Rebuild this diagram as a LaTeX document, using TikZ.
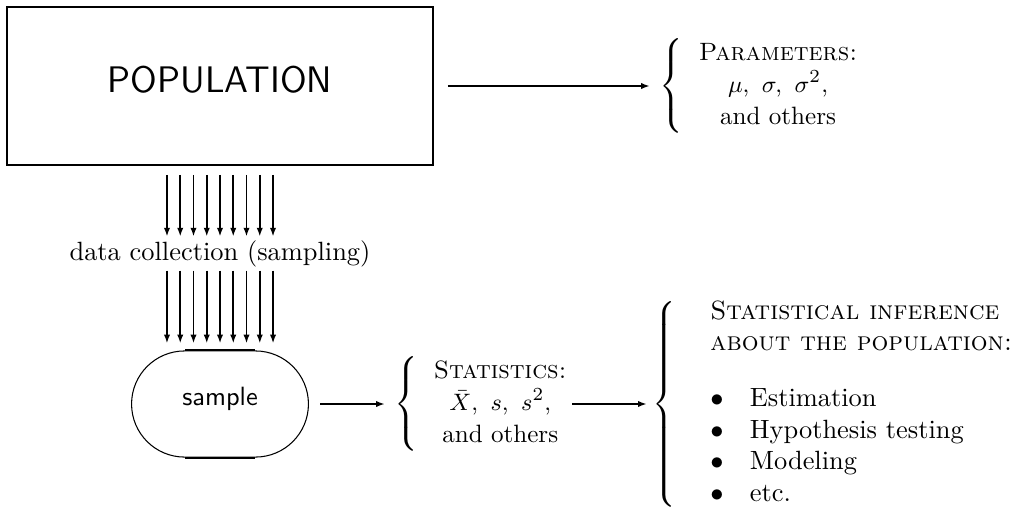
\documentclass[tikz,border=0pt]{standalone}
\usepackage{amsmath,amssymb}
\usepackage{array}
\usepackage{tikz}
\usetikzlibrary{arrows.meta,shapes.misc,calc}

\newcommand{\bracefont}{\fontsize{9.5}{12}\selectfont}

\begin{document}
\begin{tikzpicture}[x=0.3788pt, y=-0.3788pt, >={Latex[length=3.4pt,width=2.4pt]},
    flow/.style={->, line width=0.7pt},
    bracebox/.style={inner sep=0pt, anchor=west}]
    \useasboundingbox (0,0) rectangle (1023,509);

    \node[draw, line width=0.65pt, inner sep=0pt, minimum width=161.4pt, minimum height=59.9pt,
          text depth=4.9pt, font=\sffamily\fontsize{14}{16}\selectfont] (pop) at (220,86) {POPULATION};
    \node[draw, rounded rectangle, line width=0.4pt, inner sep=0pt, minimum width=67pt,
          minimum height=40.2pt, text depth=6pt, font=\sffamily] (sample) at (220,404) {sample};
    \draw[line width=0.8pt] ($(sample.north)+(-35,0)$) -- ($(sample.north)+(35,0)$);
    \draw[line width=0.8pt] ($(sample.south)+(-35,0)$) -- ($(sample.south)+(35,0)$);

    \node[anchor=base, inner sep=0pt] (coll) at (220,260) {data collection (sampling)};

    \node[bracebox] (par) at (659,86) {$\left\{\begin{tabular}{>{\bracefont}c@{}}
        \textsc{Parameters:}\\ $\mu,\ \sigma,\ \sigma^2,$\\ and others\end{tabular}\right.$};
    \node[bracebox] (stat) at (394,404) {$\left\{\begin{tabular}{>{\bracefont}c@{}}
        \textsc{Statistics:}\\ $\bar{X},\ s,\ s^2,$\\ and others\end{tabular}\right.$};
    \node[bracebox] (inf) at (652,404) {$\left\{\begin{tabular}{@{\hspace{13pt}}l@{}}
        \textsc{Statistical inference}\\ \textsc{about the population:}\\[9pt]
        $\bullet$\quad Estimation\\ $\bullet$\quad Hypothesis testing\\
        $\bullet$\quad Modeling\\ $\bullet$\quad etc.\end{tabular}\right.$};

    \foreach \k in {-4,...,4} {
        \draw[flow] ([xshift=\k*5.02pt, yshift=-3.4pt]pop.south) -- ([xshift=\k*5.02pt, yshift=1.1pt]coll.north);
        \draw[flow] ([xshift=\k*5.02pt, yshift=-1.3pt]coll.south) -- ([xshift=\k*5.02pt, yshift=2.6pt]sample.north);
    }

    \draw[flow, shorten <=5.3pt, shorten >=3.4pt] (pop.east) -- (par.west);
    \draw[flow, shorten <=4.2pt, shorten >=3.4pt] (sample.east) -- (stat.west);
    \draw[flow, shorten <=0.8pt, shorten >=1.9pt] (stat.east) -- (inf.west);
\end{tikzpicture}
\end{document}
